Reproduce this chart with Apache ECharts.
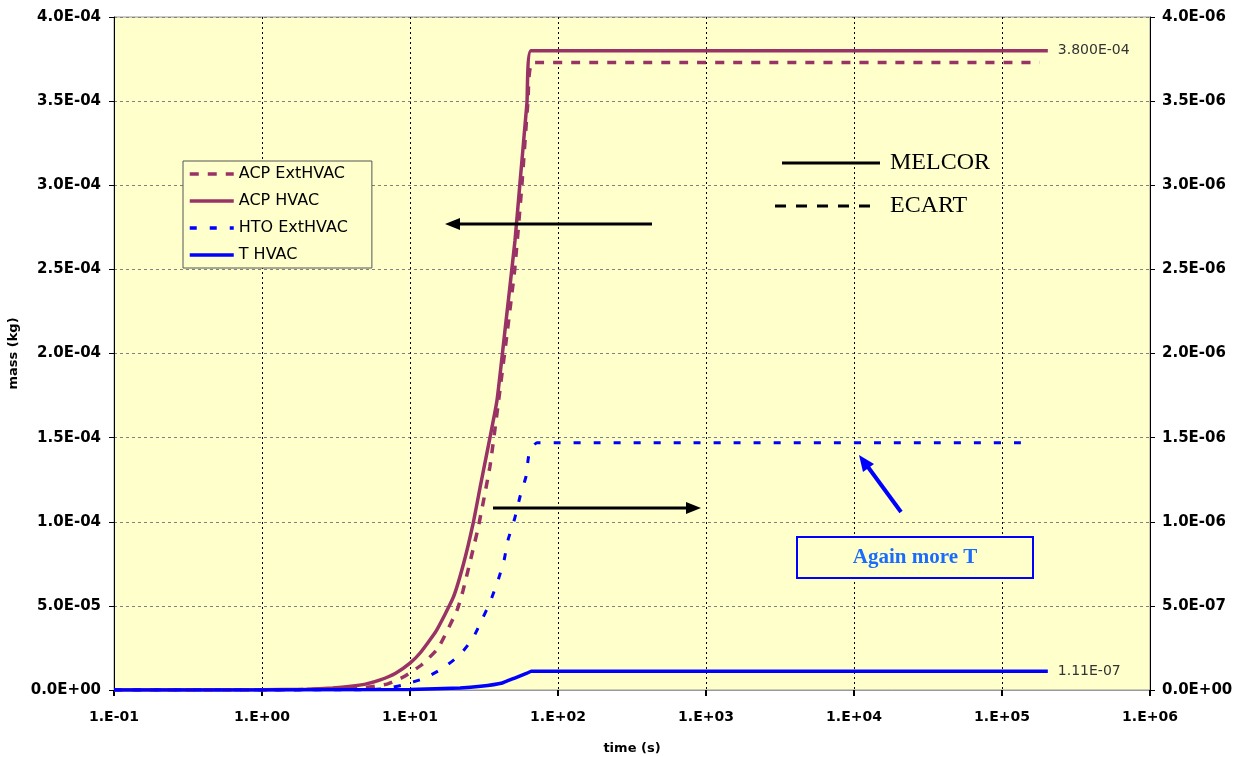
<!DOCTYPE html>
<html><head><meta charset="utf-8">
<script src="https://cdn.jsdelivr.net/npm/echarts@6/dist/echarts.min.js"></script>
<style>html,body{margin:0;padding:0;background:#fff;}#c{width:1240px;height:757px;}</style>
</head><body><div id="c"></div>
<script>
// ---- data (time in s; ACP on left axis, HTO/T on right axis, kg) ----
const seriesNames = ['ACP ExtHVAC', 'ACP HVAC', 'HTO ExtHVAC', 'T HVAC'];
const acpExtT = [0.1, 1, 3, 5, 7, 9, 12, 15.5, 20.8, 22.8, 28.8, 34.7, 39.3, 45, 51, 57, 62.7, 67.8, 1.8e5];
const acpExtV = [0, 0, 5e-7, 1.5e-6, 3.5e-6, 7.7e-6, 1.5e-5, 2.5e-5, 4.75e-5, 5.9e-5, 9.6e-5, 1.33e-4, 1.69e-4, 2.1e-4, 2.5e-4, 3.0e-4, 3.5e-4, 3.73e-4, 3.73e-4];
const acpT = [0.1, 1, 2, 3, 4, 5, 6.3, 8, 10, 11.7, 15, 19.6, 23, 26.7, 30, 34.7, 38.7, 44, 51.2, 55.3, 61.7, 65.7, 2.04e5];
const acpV = [0, 1e-7, 5e-7, 1.2e-6, 2.2e-6, 3.5e-6, 6e-6, 1e-5, 1.6e-5, 2.2e-5, 3.5e-5, 5.5e-5, 7.5e-5, 9.9e-5, 1.22e-4, 1.5e-4, 1.72e-4, 2.15e-4, 2.67e-4, 3.01e-4, 3.49e-4, 3.8e-4, 3.8e-4];
const htoT = [0.1, 1, 5, 7, 9, 12.6, 16.7, 21.8, 26.7, 31.1, 34.7, 39.3, 43.2, 45.9, 51, 55.4, 60.8, 63.7, 72, 1.36e5];
const htoV = [0, 0, 0, 1e-8, 3e-8, 7.1e-8, 1.3e-7, 2.1e-7, 3.1e-7, 4.3e-7, 5.2e-7, 6.5e-7, 7.7e-7, 8.9e-7, 1.02e-6, 1.15e-6, 1.27e-6, 1.4e-6, 1.47e-6, 1.47e-6];
const tT = [0.1, 1, 10, 21.8, 30, 42, 51, 61.7, 66, 2.04e5];
const tV = [0, 0, 3e-9, 1.2e-8, 2.2e-8, 4.2e-8, 7.1e-8, 1.0e-7, 1.11e-7, 1.11e-7];
const endLabels = ['3.800E-04', '1.11E-07'];
const annotationTexts = ['MELCOR', 'ECART', 'Again more T'];
const xName = 'time (s)', yName = 'mass (kg)';

const zip = (a, b) => a.map((v, i) => [v, b[i]]);
const expFmt = v => {
  if (v === 0) return '0.0E+00';
  let e = Math.floor(Math.log10(Math.abs(v)) + 1e-9);
  let m = v / Math.pow(10, e);
  const s = e < 0 ? '-' : '+';
  const ea = Math.abs(e);
  return m.toFixed(1) + 'E' + s + (ea < 10 ? '0' : '') + ea;
};
const xFmt = v => {
  const e = Math.round(Math.log10(v));
  const s = e < 0 ? '-' : '+';
  return '1.E' + s + '0' + Math.abs(e);
};
const PURPLE = '#993366', BLUE = '#0000ff';
const SANS = '"DejaVu Sans", Verdana, sans-serif';
const SERIF = '"Liberation Serif", "DejaVu Serif", serif';

const chart = echarts.init(document.getElementById('c'));
chart.setOption({
  animation: false,
  backgroundColor: '#fff',
  grid: {left: 114, right: 90, top: 17, bottom: 67, containLabel: false, outerBoundsMode: 'none',
         show: true, backgroundColor: '#ffffcc', borderColor: '#999', borderWidth: 1},
  xAxis: {
    type: 'log', logBase: 10, min: 0.1, max: 1e6, interval: 1,
    name: xName, nameLocation: 'middle', nameGap: 52,
    nameTextStyle: {fontFamily: SANS, fontWeight: 'bold', fontSize: 13, color: '#000'},
    axisLine: {lineStyle: {color: '#999', width: 1}},
    axisTick: {show: true, length: 6, lineStyle: {color: '#000', width: 2}},
    minorTick: {show: false},
    axisLabel: {formatter: xFmt, margin: 20, fontFamily: SANS, fontWeight: 'bold', fontSize: 14, color: '#000'},
    splitLine: {show: true, lineStyle: {color: '#000', type: [2, 3], width: 1}}
  },
  yAxis: [{
    type: 'value', min: 0, max: 4e-4, interval: 5e-5,
    name: yName, nameLocation: 'middle', nameGap: 90, nameRotate: 90,
    nameTextStyle: {fontFamily: SANS, fontWeight: 'bold', fontSize: 13, color: '#000'},
    axisLine: {show: true, lineStyle: {color: '#000', width: 1}},
    axisTick: {show: true, length: 5, lineStyle: {color: '#000'}},
    axisLabel: {formatter: expFmt, margin: 13, fontFamily: SANS, fontWeight: 'bold', fontSize: 15, color: '#000'},
    splitLine: {show: true, lineStyle: {color: '#808080', type: [3, 3], width: 1}}
  }, {
    type: 'value', min: 0, max: 4e-6, interval: 5e-7, position: 'right',
    axisLine: {show: true, lineStyle: {color: '#000', width: 1}},
    axisTick: {show: true, length: 5, lineStyle: {color: '#000'}},
    axisLabel: {formatter: expFmt, margin: 12, fontFamily: SANS, fontWeight: 'bold', fontSize: 15, color: '#000'},
    splitLine: {show: false}
  }],
  legend: {
    orient: 'vertical', left: 183, top: 161,
    data: seriesNames,
    itemWidth: 44, itemHeight: 14, itemGap: 11,
    padding: [5, 24, 5, 5],
    itemStyle: {opacity: 0},
    lineStyle: {width: 3.5},
    borderColor: '#555', borderWidth: 1, backgroundColor: '#ffffcc',
    textStyle: {fontFamily: SANS, fontSize: 16, color: '#000'}
  },
  series: [
    {name: seriesNames[0], type: 'line', yAxisIndex: 0, data: zip(acpExtT, acpExtV), showSymbol: false, symbol: 'none', smooth: 0.15,
     lineStyle: {color: PURPLE, width: 3.5, type: [9, 9]}, itemStyle: {color: PURPLE}},
    {name: seriesNames[1], type: 'line', yAxisIndex: 0, data: zip(acpT, acpV), showSymbol: false, symbol: 'none', smooth: 0.15,
     lineStyle: {color: PURPLE, width: 3.5}, itemStyle: {color: PURPLE},
     endLabel: {show: true, formatter: endLabels[0], distance: 10, fontFamily: SANS, fontSize: 14, color: '#333'}},
    {name: seriesNames[2], type: 'line', yAxisIndex: 1, data: zip(htoT, htoV), showSymbol: false, symbol: 'none', smooth: 0.15,
     lineStyle: {color: BLUE, width: 3, type: [7, 13]}, itemStyle: {color: BLUE}},
    {name: seriesNames[3], type: 'line', yAxisIndex: 1, data: zip(tT, tV), showSymbol: false, symbol: 'none', smooth: 0.15,
     lineStyle: {color: BLUE, width: 3.5}, itemStyle: {color: BLUE},
     endLabel: {show: true, formatter: endLabels[1], distance: 10, fontFamily: SANS, fontSize: 14, color: '#333'}}
  ],
  graphic: [
    // MELCOR / ECART style key
    {type: 'line', shape: {x1: 782, y1: 163, x2: 880, y2: 163}, style: {stroke: '#000', lineWidth: 3}, z: 10},
    {type: 'text', x: 890, y: 163, style: {text: annotationTexts[0], font: '24px ' + SERIF, fill: '#000', textVerticalAlign: 'middle'}, z: 10},
    {type: 'line', shape: {x1: 775, y1: 206, x2: 873, y2: 206}, style: {stroke: '#000', lineWidth: 3, lineDash: [11, 10]}, z: 10},
    {type: 'text', x: 890, y: 206, style: {text: annotationTexts[1], font: '24px ' + SERIF, fill: '#000', textVerticalAlign: 'middle'}, z: 10},
    // left-pointing arrow
    {type: 'line', shape: {x1: 652, y1: 224, x2: 455, y2: 224}, style: {stroke: '#000', lineWidth: 3}, z: 10},
    {type: 'polygon', shape: {points: [[445, 224], [460, 218], [460, 230]]}, style: {fill: '#000'}, z: 10},
    // right-pointing arrow
    {type: 'line', shape: {x1: 493, y1: 508, x2: 690, y2: 508}, style: {stroke: '#000', lineWidth: 3}, z: 10},
    {type: 'polygon', shape: {points: [[701, 508], [686, 502], [686, 514]]}, style: {fill: '#000'}, z: 10},
    // blue arrow
    {type: 'line', shape: {x1: 901, y1: 512, x2: 868, y2: 467}, style: {stroke: BLUE, lineWidth: 4}, z: 10},
    {type: 'polygon', shape: {points: [[859, 455], [874, 464], [863, 472]]}, style: {fill: BLUE}, z: 10},
    // box
    {type: 'rect', shape: {x: 797, y: 537, width: 236, height: 41}, style: {stroke: BLUE, lineWidth: 2, fill: '#ffffcc'}, z: 10},
    {type: 'text', x: 915, y: 558, style: {text: annotationTexts[2], font: 'bold 21px ' + SERIF, fill: '#1a6cff', textAlign: 'center', textVerticalAlign: 'middle'}, z: 11}
  ]
});
</script></body></html>
